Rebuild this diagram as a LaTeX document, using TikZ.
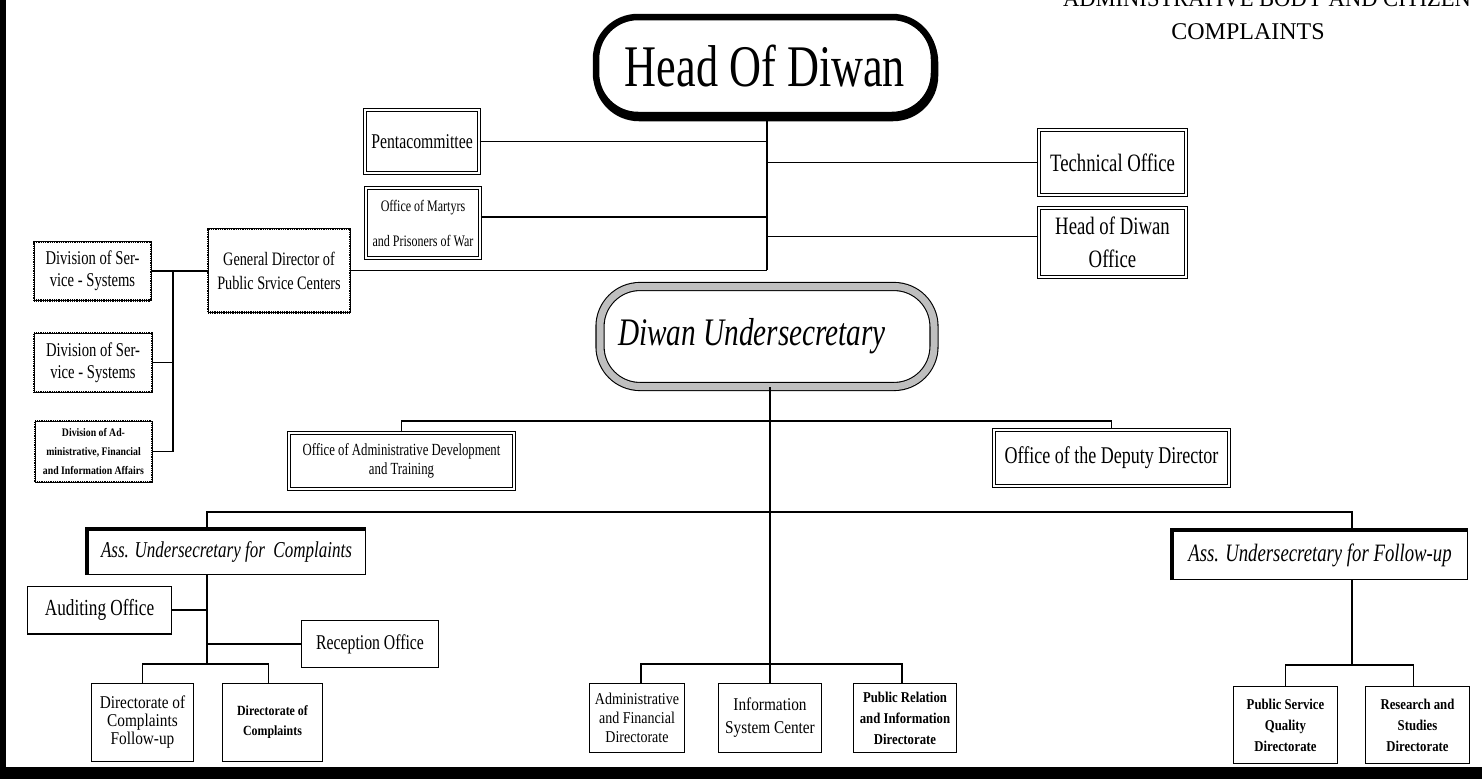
\documentclass[tikz,border=0pt]{standalone}
\usepackage{fontspec}
\setmainfont{Liberation Serif}
\newfontfamily\fa[FakeStretch=0.75]{Liberation Serif}
\newfontfamily\fb[FakeStretch=0.85]{Liberation Serif}
\newfontfamily\fh[FakeStretch=0.94]{Liberation Serif}
\newcommand\fs[2]{\fontsize{#1}{#2}\selectfont}

\begin{document}
\begin{tikzpicture}[x=1pt,y=-1pt,
  every node/.style={inner sep=0pt, align=center},
  conn/.style={line width=1.1pt},
  dblbox/.style={draw, double, double distance=2pt, line width=0.75pt, fill=white},
  dotbox/.style={draw, line width=0.7pt, fill=white,
    postaction={draw, line width=2.2pt, dash pattern=on 0.9pt off 0.9pt}},
  plainbox/.style={draw, line width=1.4pt, fill=white},
  assbox/.style={draw, line width=1.2pt, fill=white},
  heavy/.style={line width=3.6pt},
]
\useasboundingbox (0,0) rectangle (1482,779);
\fill[white] (0,0) rectangle (1482,779);
% page frame (left and bottom edges)
\fill[black] (0,0) rectangle (6,779);
\fill[black] (0,767) rectangle (1482,779);

% heading
\node[anchor=base, font=\fh\fs{24}{24}] (hdr1) at (1267,6) {ADMINISTRATIVE BODY AND CITIZEN};
\node[anchor=base, font=\fs{24}{24}] (hdr2) at (1248,39) {COMPLAINTS};

% top of the chart
\node[draw, line width=6.5pt, rounded corners=42pt, fill=white,
      minimum width=338pt, minimum height=98pt,
      preaction={draw, line width=6.5pt, rounded corners=42pt,
                 transform canvas={xshift=1pt, yshift=-3pt}},
      font=\fa\fs{59}{59}] (head) at (765,66) {Head Of Diwan};

\node[dblbox, minimum width=114.4pt, minimum height=63.4pt, font=\fa\fs{21}{24}]
  (penta) at (422,141.5) {Pentacommittee};
\node[dblbox, minimum width=114.4pt, minimum height=70.4pt, font=\fa\fs{16}{35}]
  (martyrs) at (423,223) {Office of Martyrs\\and Prisoners of War};
\node[dblbox, minimum width=147.4pt, minimum height=65.4pt, font=\fa\fs{25}{28}]
  (tech) at (1112.5,162.5) {Technical Office};
\node[dblbox, minimum width=147.4pt, minimum height=69.4pt, font=\fa\fs{25}{33}]
  (hodo) at (1112.5,242.5) {Head of Diwan\\Office};

\node[dotbox, minimum width=141.8pt, minimum height=83.8pt, font=\fa\fs{19}{24}]
  (gd) at (279,270.5) {General Director of\\Public Srvice Centers};
\node[dotbox, minimum width=116.8pt, minimum height=58.8pt, font=\fa\fs{19.5}{22}]
  (div1) at (92.5,271) {Division of Ser-\\vice - Systems};
\node[dotbox, minimum width=117.8pt, minimum height=58.8pt, font=\fa\fs{19.5}{22}]
  (div2) at (93,362.5) {Division of Ser-\\vice - Systems};
\node[dotbox, minimum width=116.8pt, minimum height=60.8pt, font=\fb\bfseries\fs{11.5}{19}]
  (div3) at (93.5,451.5) {Division of Ad-\\ministrative, Financial\\and Information Affairs};

% second level
\node[draw, line width=1.1pt, double=gray!50, double distance=7pt, rounded corners=40pt,
      minimum width=334pt, minimum height=100pt, font=\fa\itshape\fs{39}{39}]
  (under) at (767,336.5) {Diwan Undersecretary\hspace*{30pt}};

\node[dblbox, minimum width=225.4pt, minimum height=56.4pt, font=\fa\fs{17}{19}]
  (adev) at (401.5,461) {Office of Administrative Development\\and Training};
\node[dblbox, minimum width=235.4pt, minimum height=56.4pt, font=\fa\fs{24}{26}]
  (dep) at (1111.5,458) {Office of the Deputy Director};

\node[assbox, minimum width=277.8pt, minimum height=44.8pt, font=\fa\itshape\fs{22.7}{24}]
  (assc) at (226.5,552) {Ass. Undersecretary for\ \ Complaints};
\node[assbox, minimum width=294.8pt, minimum height=48.8pt, font=\fa\itshape\fs{25}{26}]
  (assf) at (1320,555) {Ass. Undersecretary for Follow-up};

% complaints branch
\node[plainbox, minimum width=143.6pt, minimum height=47.6pt, font=\fa\fs{23}{24}]
  (aud) at (99.5,610) {Auditing Office};
\node[plainbox, minimum width=136.6pt, minimum height=46.6pt, font=\fa\fs{21}{24}]
  (rec) at (370,644) {Reception Office};
\node[plainbox, minimum width=101.6pt, minimum height=77.6pt, font=\fb\fs{18}{18}]
  (dcf) at (142.5,722.5) {Directorate of\\Complaints\\Follow-up};
\node[plainbox, minimum width=99.6pt, minimum height=77.6pt, font=\fb\bfseries\fs{14}{20}]
  (dc) at (272.5,722.5) {Directorate of\\Complaints};

% directorates under the undersecretary
\node[plainbox, minimum width=94.6pt, minimum height=68.6pt, font=\fb\fs{16.5}{19}]
  (afd) at (637,718) {Administrative\\and Financial\\Directorate};
\node[plainbox, minimum width=102.6pt, minimum height=68.6pt, font=\fb\fs{18}{23}]
  (isc) at (770,718) {Information\\System Center};
\node[plainbox, minimum width=102.6pt, minimum height=68.6pt, font=\fb\bfseries\fs{15}{21}]
  (pri) at (905,718) {Public Relation\\and Information\\Directorate};

% follow-up branch
\node[plainbox, minimum width=103.6pt, minimum height=76.6pt, font=\fb\bfseries\fs{15}{21}]
  (psq) at (1285.5,725) {Public Service\\Quality\\Directorate};
\node[plainbox, minimum width=103.6pt, minimum height=76.6pt, font=\fb\bfseries\fs{15}{21}]
  (rsd) at (1417.5,725) {Research and\\Studies\\Directorate};

% heavy top and left edges of the assistant boxes
\draw[heavy] (assc.south west) -- (assc.north west) -- (assc.north east);
\draw[heavy] (assf.south west) -- (assf.north west) -- (assf.north east);

% connectors: head of diwan
\coordinate (t) at (767,270);
\draw[conn] (head.south -| t) -- (t);
\draw[conn] (penta.east) -- (penta.east -| t);
\coordinate (mr) at ([yshift=6pt]martyrs.east);
\draw[conn] (mr) -- (mr -| t);
\draw[conn] (tech.west) -- (tech.west -| t);
\coordinate (hr) at ([yshift=6pt]hodo.west);
\draw[conn] (hr) -- (hr -| t);
\draw[conn] (gd.east) -- (gd.east -| t);

% connectors: public service centers
\coordinate (bx) at (173,0);
\draw[conn] (div1.east) -- (div1.east -| gd.west);
\draw[conn] (div1.east -| bx) -- (div3.east -| bx);
\draw[conn] (div2.east) -- (div2.east -| bx);
\draw[conn] (div3.east) -- (div3.east -| bx);

% connectors: undersecretary
\draw[conn] (under.south -| isc.north) -- (isc.north);
\coordinate (r1) at (0,421);
\draw[conn] (adev.north) -- (adev.north |- r1) -- (dep.north |- r1) -- (dep.north);
\coordinate (a) at (207,512);
\coordinate (b) at (1352,512);
\draw[conn] (a |- assc.north) -- (a) -- (b) -- (b |- assf.north);

% connectors: complaints
\coordinate (c1) at (207,664);
\draw[conn] (a |- assc.south) -- (c1);
\draw[conn] (aud.east) -- (aud.east -| a);
\draw[conn] (rec.west) -- (rec.west -| a);
\coordinate (dct) at ([xshift=-4pt]dc.north);
\draw[conn] (dcf.north) -- (dcf.north |- c1) -- (dct |- c1) -- (dct);

% connectors: central directorates
\coordinate (c2) at (0,664);
\coordinate (aft) at ([xshift=4pt]afd.north);
\coordinate (prt) at ([xshift=-3pt]pri.north);
\draw[conn] (aft) -- (aft |- c2) -- (prt |- c2) -- (prt);

% connectors: follow-up
\coordinate (c3) at (1352,665);
\draw[conn] (b |- assf.south) -- (c3);
\coordinate (rst) at ([xshift=-4pt]rsd.north);
\draw[conn] (psq.north) -- (psq.north |- c3) -- (rst |- c3) -- (rst);
\end{tikzpicture}
\end{document}
